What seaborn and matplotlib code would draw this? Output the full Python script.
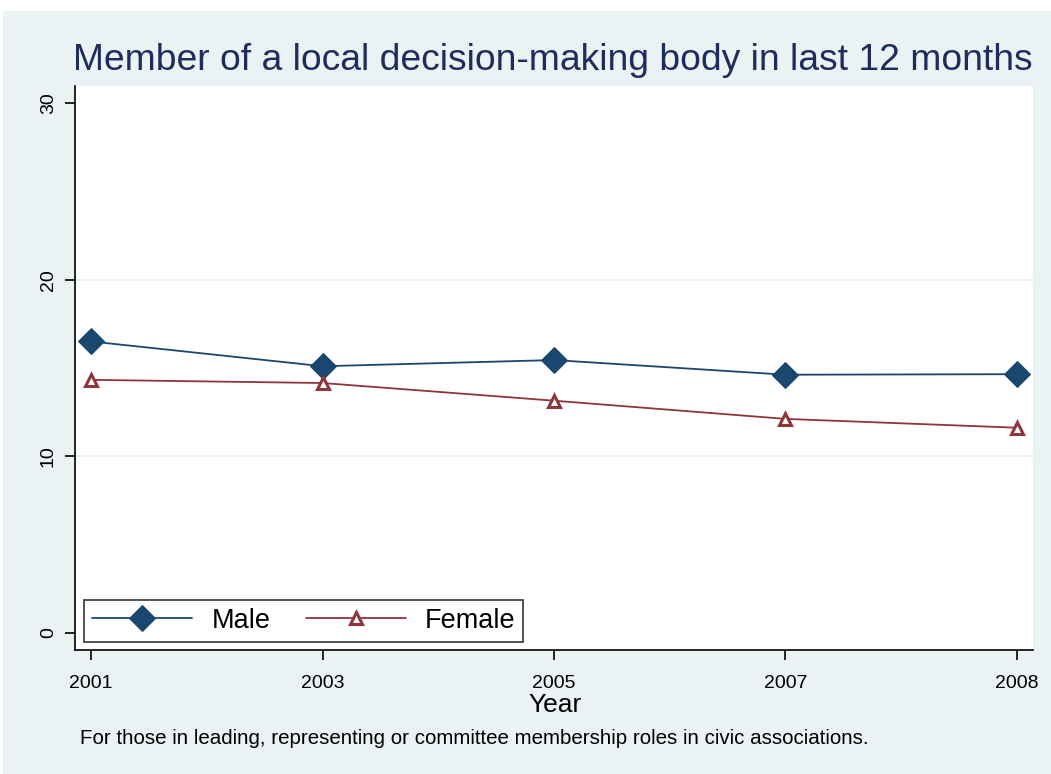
import matplotlib.pyplot as plt
import pandas as pd
import seaborn as sns
from matplotlib.patches import Rectangle

# Data
years = ["2001", "2003", "2005", "2007", "2008"]
male = [16.5, 15.1, 15.45, 14.62, 14.65]
female = [14.33, 14.15, 13.15, 12.12, 11.62]

df = pd.DataFrame({
    "Year": years * 2,
    "Percent": male + female,
    "Sex": ["Male"] * len(years) + ["Female"] * len(years),
})

bg = "#EAF2F3"
navy = "#1A476F"
maroon = "#90353B"

sns.set_theme(style="white")
plt.rcParams["font.family"] = ["Liberation Sans", "DejaVu Sans"]

fig = plt.figure(figsize=(10.51, 7.74), dpi=100, facecolor=bg)
ax = fig.add_axes([75 / 1051, 1 - 650 / 774, (1033 - 75) / 1051, (650 - 86) / 774])
ax.set_facecolor("white")

# white strips at top and left edge of the image
fig.patches.append(Rectangle((0, 1 - 11 / 774), 1, 11 / 774, transform=fig.transFigure,
                             facecolor="white", edgecolor="none", zorder=-1))
fig.patches.append(Rectangle((0, 0), 3 / 1051, 1, transform=fig.transFigure,
                             facecolor="white", edgecolor="none", zorder=-1))

sns.lineplot(
    data=df[df["Sex"] == "Male"], x="Year", y="Percent",
    color=navy, marker="D", markersize=13, markeredgecolor=navy,
    linewidth=1.3, label="Male", ax=ax, sort=False,
)
sns.lineplot(
    data=df[df["Sex"] == "Female"], x="Year", y="Percent",
    color=maroon, marker="^", markersize=8, markerfacecolor="white",
    markeredgecolor=maroon, markeredgewidth=2.2,
    linewidth=1.3, label="Female", ax=ax, sort=False,
)

ax.set_xlim(-0.07, 4.07)
ax.set_ylim(-0.96, 30.96)
ax.set_yticks([0, 10, 20, 30])
ax.set_yticklabels(["0", "10", "20", "30"], rotation=90, va="center")

for v in [10, 20]:
    ax.axhline(v, color=bg, linewidth=1.5, zorder=0)

for s in ["top", "right"]:
    ax.spines[s].set_visible(False)
for s in ["left", "bottom"]:
    ax.spines[s].set_color("black")
    ax.spines[s].set_linewidth(1.2)

ax.tick_params(axis="both", direction="out", length=7, width=1.2, color="black",
               labelsize=14, labelcolor="black", left=True, bottom=True)
ax.tick_params(axis="x", pad=11)
ax.tick_params(axis="y", pad=6)

ax.set_xlabel("")
ax.set_ylabel("")

fig.text(555 / 1051, 1 - 705 / 774, "Year", ha="center", va="center",
         fontsize=19, color="black")
fig.text(553 / 1051, 1 - 60 / 774, "Member of a local decision-making body in last 12 months",
         ha="center", va="center", fontsize=26.8, color="#1E2D5C")
fig.text(80 / 1051, 1 - 738 / 774,
         "For those in leading, representing or committee membership roles in civic associations.",
         ha="left", va="center", fontsize=14.8, color="black")

leg = ax.legend(loc="lower left", bbox_to_anchor=(9 / 958, 8 / 564), ncol=2, fontsize=19.5,
                frameon=True, fancybox=False, edgecolor="black", handlelength=3.7,
                columnspacing=1.3, borderpad=0.3, handletextpad=0.7, borderaxespad=0)
leg.get_frame().set_linewidth(1.2)
for t in leg.get_texts():
    t.set_color("black")

fig.savefig("out.png", dpi=100, facecolor=bg)
